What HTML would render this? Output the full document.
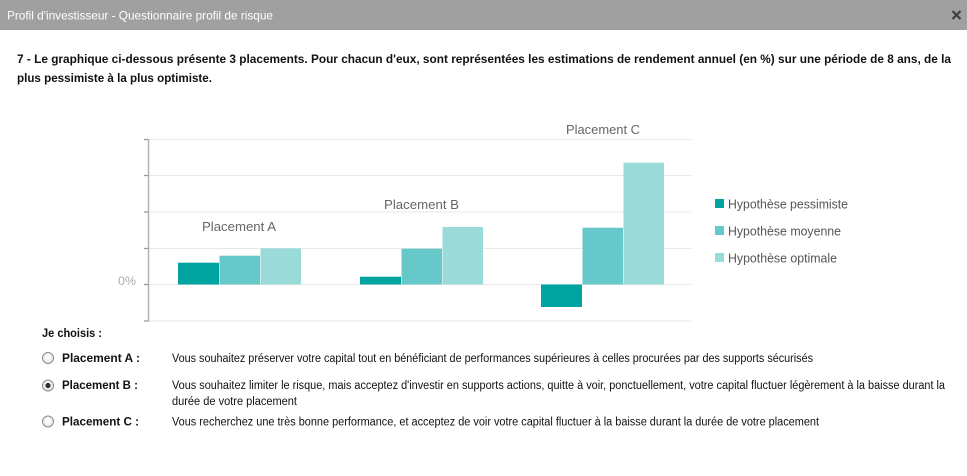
<!DOCTYPE html>
<html>
<head>
<meta charset="utf-8">
<style>
html,body{margin:0;padding:0;background:#fff;}
svg{display:block;}
text{font-family:"Liberation Sans", sans-serif;}
</style>
</head>
<body>
<svg width="967" height="476" viewBox="0 0 967 476" xmlns="http://www.w3.org/2000/svg">
  <defs>
    <radialGradient id="rg" cx="50%" cy="40%" r="60%">
      <stop offset="0" stop-color="#ffffff"/>
      <stop offset="1" stop-color="#e6e6e6"/>
    </radialGradient>
  </defs>
  <rect x="0" y="0" width="967" height="476" fill="#ffffff"/>
  <!-- Title bar -->
  <rect x="0" y="0" width="967" height="30" fill="#a0a0a0"/>
  <text x="7" y="19.5" font-size="12" fill="#ffffff" textLength="266" lengthAdjust="spacingAndGlyphs">Profil d'investisseur - Questionnaire profil de risque</text>
  <g stroke="#3c3c3c" stroke-width="2">
    <line x1="952.5" y1="11" x2="960.5" y2="19"/>
    <line x1="960.5" y1="11" x2="952.5" y2="19"/>
  </g>

  <!-- Question -->
  <text x="17" y="63" font-size="11.5" font-weight="bold" fill="#111" textLength="934" lengthAdjust="spacingAndGlyphs">7 - Le graphique ci-dessous présente 3 placements. Pour chacun d'eux, sont représentées les estimations de rendement annuel (en %) sur une période de 8 ans, de la</text>
  <text x="17" y="82" font-size="11.5" font-weight="bold" fill="#111" textLength="195" lengthAdjust="spacingAndGlyphs">plus pessimiste à la plus optimiste.</text>

  <!-- Chart gridlines -->
  <g stroke="#e8e8e8" stroke-width="1">
    <line x1="148" y1="139.5" x2="691" y2="139.5"/>
    <line x1="148" y1="175.5" x2="691" y2="175.5"/>
    <line x1="148" y1="212" x2="691" y2="212"/>
    <line x1="148" y1="248.5" x2="691" y2="248.5"/>
    <line x1="148" y1="284.5" x2="691" y2="284.5"/>
    <line x1="148" y1="321" x2="691" y2="321"/>
  </g>
  <!-- Axis -->
  <line x1="148.5" y1="139" x2="148.5" y2="321.5" stroke="#b4b4b4" stroke-width="1.5"/>
  <g stroke="#999" stroke-width="1.3">
    <line x1="144" y1="139.5" x2="148" y2="139.5"/>
    <line x1="144" y1="175.5" x2="148" y2="175.5"/>
    <line x1="144" y1="212" x2="148" y2="212"/>
    <line x1="144" y1="248.5" x2="148" y2="248.5"/>
    <line x1="144" y1="284.5" x2="148" y2="284.5"/>
    <line x1="144" y1="321" x2="148" y2="321"/>
  </g>
  <text x="118" y="285" font-size="12" fill="#ababab" textLength="18" lengthAdjust="spacingAndGlyphs">0%</text>

  <!-- Bars A -->
  <rect x="178" y="262.7" width="41" height="21.8" fill="#00a39f"/>
  <rect x="219.5" y="255.7" width="40.5" height="28.8" fill="#66c8c8"/>
  <rect x="260.5" y="248.3" width="40.5" height="36.2" fill="#9adbda"/>
  <!-- Bars B -->
  <rect x="360" y="276.7" width="41" height="7.8" fill="#00a39f"/>
  <rect x="401.5" y="248.7" width="40.5" height="35.8" fill="#66c8c8"/>
  <rect x="442.5" y="227" width="40.5" height="57.5" fill="#9adbda"/>
  <!-- Bars C -->
  <rect x="541" y="284.5" width="41" height="22.5" fill="#00a39f"/>
  <rect x="582.5" y="227.7" width="40.5" height="56.8" fill="#66c8c8"/>
  <rect x="623.5" y="162.7" width="40.5" height="121.8" fill="#9adbda"/>

  <!-- Group labels -->
  <text x="202" y="231" font-size="13" fill="#666" textLength="74" lengthAdjust="spacingAndGlyphs">Placement A</text>
  <text x="384" y="209" font-size="13" fill="#666" textLength="75" lengthAdjust="spacingAndGlyphs">Placement B</text>
  <text x="566" y="134" font-size="13" fill="#666" textLength="74" lengthAdjust="spacingAndGlyphs">Placement C</text>

  <!-- Legend -->
  <rect x="715" y="199" width="9" height="9" fill="#00a39f"/>
  <text x="728" y="208.5" font-size="12.5" fill="#555" textLength="120" lengthAdjust="spacingAndGlyphs">Hypothèse pessimiste</text>
  <rect x="715" y="226" width="9" height="9" fill="#66c8c8"/>
  <text x="728" y="235.5" font-size="12.5" fill="#555" textLength="113" lengthAdjust="spacingAndGlyphs">Hypothèse moyenne</text>
  <rect x="715" y="253" width="9" height="9" fill="#9adbda"/>
  <text x="728" y="262.5" font-size="12.5" fill="#555" textLength="109" lengthAdjust="spacingAndGlyphs">Hypothèse optimale</text>

  <!-- Choices -->
  <text x="42" y="337" font-size="11.5" font-weight="bold" fill="#111" textLength="60" lengthAdjust="spacingAndGlyphs">Je choisis :</text>

  <circle cx="48" cy="358" r="5.5" fill="url(#rg)" stroke="#8a8a8a" stroke-width="1"/>
  <text x="62" y="362" font-size="11.5" font-weight="bold" fill="#111" textLength="78" lengthAdjust="spacingAndGlyphs">Placement A :</text>
  <text x="172" y="362" font-size="11.5" fill="#111" textLength="641" lengthAdjust="spacingAndGlyphs">Vous souhaitez préserver votre capital tout en bénéficiant de performances supérieures à celles procurées par des supports sécurisés</text>

  <circle cx="48" cy="385.5" r="5.5" fill="url(#rg)" stroke="#8a8a8a" stroke-width="1"/>
  <circle cx="48" cy="385.5" r="2.6" fill="#333"/>
  <text x="62" y="389" font-size="11.5" font-weight="bold" fill="#111" textLength="76" lengthAdjust="spacingAndGlyphs">Placement B :</text>
  <text x="172" y="389" font-size="11.5" fill="#111" textLength="773" lengthAdjust="spacingAndGlyphs">Vous souhaitez limiter le risque, mais acceptez d'investir en supports actions, quitte à voir, ponctuellement, votre capital fluctuer légèrement à la baisse durant la</text>
  <text x="172" y="405" font-size="11.5" fill="#111" textLength="125" lengthAdjust="spacingAndGlyphs">durée de votre placement</text>

  <circle cx="48" cy="421.5" r="5.5" fill="url(#rg)" stroke="#8a8a8a" stroke-width="1"/>
  <text x="62" y="425.5" font-size="11.5" font-weight="bold" fill="#111" textLength="77" lengthAdjust="spacingAndGlyphs">Placement C :</text>
  <text x="172" y="425.5" font-size="11.5" fill="#111" textLength="647" lengthAdjust="spacingAndGlyphs">Vous recherchez une très bonne performance, et acceptez de voir votre capital fluctuer à la baisse durant la durée de votre placement</text>
</svg>
</body>
</html>
